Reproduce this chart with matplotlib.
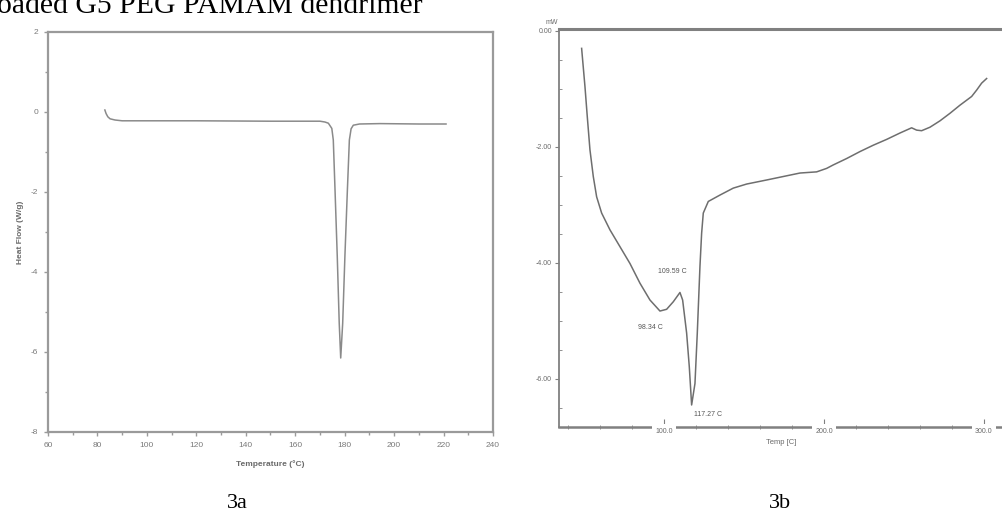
import matplotlib
matplotlib.use("Agg")
import matplotlib.pyplot as plt
from matplotlib.ticker import MultipleLocator, FixedLocator

plt.rcParams["axes.unicode_minus"] = False

# ---- data: 3a (DSC, Heat Flow W/g vs Temperature °C)
temp_a = [83.0, 83.5, 84.2, 85.1, 87.1, 90, 120, 150, 165, 170, 172, 173.4, 174.8,
          175.4, 176.1, 177.0, 177.8, 178.4, 179.2, 180.1, 181.1, 181.9, 182.6,
          183.5, 186, 194.3, 210, 221]
flow_a = [0.05, -0.04, -0.12, -0.17, -0.2, -0.22, -0.22, -0.23, -0.23, -0.23, -0.25,
          -0.28, -0.41, -0.7, -1.95, -3.6, -5.28, -6.15, -5.28, -3.6, -1.95, -0.7,
          -0.42, -0.33, -0.3, -0.29, -0.3, -0.3]

# ---- data: 3b (DSC, mW vs Temp C)
temp_b = [48.54, 50.63, 52.08, 53.75, 55.83, 57.92, 61.04, 66.25, 72.5, 78.75, 85.0,
          91.25, 97.5, 101.67, 105.83, 110.0, 111.67, 114.17, 115.83, 117.29, 119.38,
          120.83, 122.5, 123.54, 124.58, 127.71, 135.0, 143.33, 151.67, 164.17,
          174.58, 185.0, 195.42, 201.67, 205.83, 214.17, 222.5, 230.83, 239.17,
          247.5, 254.79, 257.92, 261.04, 266.25, 272.5, 278.75, 285.0, 292.29,
          295.42, 298.54, 301.67]
flow_b = [-0.30, -0.96, -1.48, -2.05, -2.51, -2.86, -3.14, -3.43, -3.72, -4.01, -4.35,
          -4.64, -4.83, -4.80, -4.67, -4.51, -4.64, -5.21, -5.79, -6.45, -6.08,
          -5.21, -4.06, -3.49, -3.14, -2.94, -2.83, -2.71, -2.64, -2.57,
          -2.51, -2.45, -2.43, -2.37, -2.31, -2.20, -2.08, -1.97, -1.87,
          -1.76, -1.67, -1.71, -1.72, -1.66, -1.55, -1.42, -1.28, -1.13,
          -1.02, -0.90, -0.82]

ann_text = ["109.59 C", "98.34 C", "117.27 C"]
ann_x = [105.0, 91.3, 127.5]
ann_y = [-4.15, -5.11, -6.62]

xt_a = [60, 80, 100, 120, 140, 160, 180, 200, 220, 240]
yt_a = [-8, -6, -4, -2, 0, 2]
xt_b = [100.0, 200.0, 300.0]
yt_b = [0.0, -2.0, -4.0, -6.0]

W, H = 1003, 512
fig = plt.figure(figsize=(W / 100, H / 100), dpi=100)
fig.patch.set_facecolor("white")

def fx(px):
    return px / W

def fy(py):
    return 1 - py / H

# ---------------- panel 3a
ax1 = fig.add_axes([fx(48), fy(432), (493 - 48) / W, (432 - 32) / H])
sc = "#9a9a9a"
ax1.plot(temp_a, flow_a, color="#8a8a8a", lw=1.1)
ax1.set_xlim(60, 240)
ax1.set_ylim(-8, 2)
ax1.xaxis.set_major_locator(FixedLocator(xt_a))
ax1.xaxis.set_minor_locator(MultipleLocator(10))
ax1.yaxis.set_major_locator(FixedLocator(yt_a))
ax1.yaxis.set_minor_locator(MultipleLocator(1))
for s in ax1.spines.values():
    s.set_color(sc)
    s.set_linewidth(1.6)
ax1.tick_params(which="both", direction="out", colors=sc, labelcolor="#7a7a7a",
                labelsize=6, width=1)
ax1.tick_params(which="major", length=3, pad=4)
ax1.tick_params(which="minor", length=2)
ax1.set_xlabel("Temperature (°C)", fontsize=6, color="#6a6a6a", fontweight="bold",
               family="Liberation Sans", labelpad=8)
ax1.set_ylabel("Heat Flow (W/g)", fontsize=6, color="#6a6a6a", fontweight="bold",
               family="Liberation Sans", labelpad=5)
for t in ax1.get_xticklabels() + ax1.get_yticklabels():
    t.set_family("Liberation Sans")

# ---------------- panel 3b
ax2 = fig.add_axes([fx(559), fy(427), (W - 559) / W, (427 - 29) / H])
ax2.plot(temp_b, flow_b, color="#6e6e6e", lw=1.1)
ax2.set_xlim(34.4, 311.9)
ax2.set_ylim(-6.83, 0.034)
ax2.spines["right"].set_visible(False)
for k in ["left", "bottom", "top"]:
    ax2.spines[k].set_color("#808080")
ax2.spines["left"].set_linewidth(1.3)
ax2.spines["bottom"].set_linewidth(1.8)
ax2.spines["top"].set_linewidth(2.2)
ax2.xaxis.set_major_locator(FixedLocator(xt_b))
ax2.xaxis.set_minor_locator(MultipleLocator(20))
ax2.yaxis.set_major_locator(FixedLocator(yt_b))
ax2.yaxis.set_minor_locator(MultipleLocator(0.5))
ax2.set_xticklabels([f"{v:.1f}" for v in xt_b])
ax2.set_yticklabels([f"{v:.2f}" for v in yt_b])
ax2.tick_params(axis="x", which="major", direction="in", length=6, pad=0.5,
                colors="#808080", labelcolor="#6a6a6a", labelsize=5, top=False)
ax2.tick_params(axis="x", which="minor", direction="inout", length=3,
                colors="#808080", top=False)
ax2.tick_params(axis="y", which="major", direction="out", length=3, pad=2,
                colors="#808080", labelcolor="#6a6a6a", labelsize=5)
ax2.tick_params(axis="y", which="minor", direction="in", length=2, colors="#808080")
for t in ax2.get_xticklabels():
    t.set_bbox(dict(facecolor="white", edgecolor="none", pad=2.5))
    t.set_family("Liberation Sans")
for t in ax2.get_yticklabels():
    t.set_family("Liberation Sans")
ax2.xaxis.set_zorder(3)
ax2.set_xlabel("Temp [C]", fontsize=5.5, color="#6a6a6a", family="Liberation Sans",
               labelpad=3)
for s, xx, yy in zip(ann_text, ann_x, ann_y):
    ax2.text(xx, yy, s, fontsize=5, color="#555555", ha="center", va="center",
             family="Liberation Sans")
fig.text(fx(552), fy(22), "mW", fontsize=5, color="#6a6a6a", ha="center",
         va="center", family="Liberation Sans")

# ---------------- captions
fig.text(fx(-3), fy(13), "oaded G5 PEG PAMAM dendrimer", fontsize=21.4,
         family="Liberation Serif", color="black", ha="left", va="baseline")
fig.text(fx(237), fy(508), "3a", fontsize=16, family="Liberation Serif",
         ha="center", va="baseline")
fig.text(fx(780), fy(508), "3b", fontsize=16, family="Liberation Serif",
         ha="center", va="baseline")

fig.savefig("out.png", dpi=100, facecolor="white")
